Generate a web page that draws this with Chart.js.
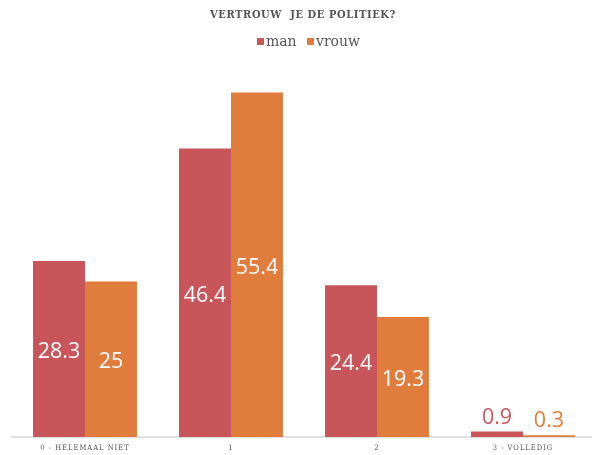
<!DOCTYPE html>
<html>
<head>
<meta charset="utf-8">
<script src="https://cdn.jsdelivr.net/npm/chart.js@4"></script>
<style>
  html, body { margin: 0; padding: 0; background: #fff; overflow: hidden; }
  #wrap { width: 596px; height: 455px; position: relative; }
</style>
</head>
<body>
<div id="wrap"><canvas id="chart"></canvas></div>
<script>
// data
const categories = ['0 - HELEMAAL NIET', '1', '2', '3 - VOLLEDIG'];
const seriesNames = ['man', 'vrouw'];
const manValues = [28.3, 46.4, 24.4, 0.9];
const vrouwValues = [25, 55.4, 19.3, 0.3];
const chartTitle = 'VERTROUW  JE DE POLITIEK?';

const colors = ['#c8555a', '#e07d3c'];

// title, legend, tick labels and value labels drawn on the canvas
const decorPlugin = {
    id: 'decor',
    afterDraw(chart) {
        const ctx = chart.ctx;
        ctx.save();

        // title
        ctx.fillStyle = '#555';
        ctx.font = 'bold 11px "DejaVu Serif Condensed", "DejaVu Serif"';
        ctx.letterSpacing = '0.6px';
        ctx.textAlign = 'center';
        ctx.textBaseline = 'middle';
        ctx.fillText(chartTitle, 303, 15);

        // legend
        ctx.letterSpacing = '0px';
        ctx.font = '14px "DejaVu Serif"';
        ctx.textAlign = 'left';
        const legendX = [257, 307];
        seriesNames.forEach((name, i) => {
            ctx.fillStyle = colors[i];
            ctx.fillRect(legendX[i], 38, 7, 7);
            ctx.fillStyle = '#555';
            ctx.fillText(name, legendX[i] + 9, 42);
        });

        // category labels
        const xScale = chart.scales.x;
        ctx.font = '7.5px "DejaVu Serif Condensed", "DejaVu Serif"';
        ctx.letterSpacing = '1px';
        ctx.fillStyle = '#555';
        ctx.textAlign = 'center';
        categories.forEach((c, i) => {
            ctx.fillText(c, xScale.getPixelForTick(i), 448);
        });

        // value labels
        ctx.letterSpacing = '0px';
        ctx.font = '21.5px "Open Sans"';
        chart.data.datasets.forEach((ds, di) => {
            chart.getDatasetMeta(di).data.forEach((bar, i) => {
                const h = bar.base - bar.y;
                const txt = String(ds.data[i]);
                if (h > 30) {
                    ctx.fillStyle = '#fff';
                    ctx.fillText(txt, bar.x, (bar.y + bar.base) / 2 + 3);
                } else {
                    ctx.fillStyle = colors[di];
                    ctx.fillText(txt, bar.x, bar.y - 14);
                }
            });
        });
        ctx.restore();
    }
};

new Chart(document.getElementById('chart'), {
    type: 'bar',
    data: {
        labels: categories,
        datasets: [
            { label: seriesNames[0], data: manValues, backgroundColor: colors[0] },
            { label: seriesNames[1], data: vrouwValues, backgroundColor: colors[1] }
        ]
    },
    options: {
        responsive: true,
        maintainAspectRatio: false,
        animation: false,
        layout: { padding: { top: 64, bottom: 18, left: 12, right: 0 } },
        datasets: { bar: { categoryPercentage: 0.712, barPercentage: 1 } },
        scales: {
            x: {
                grid: { display: false, drawTicks: false },
                border: { color: '#e0e0e0', width: 2 },
                ticks: { display: false }
            },
            y: { display: false, min: 0, max: 60 }
        },
        plugins: {
            legend: { display: false },
            title: { display: false },
            tooltip: { enabled: false }
        }
    },
    plugins: [decorPlugin]
});
</script>
</body>
</html>
